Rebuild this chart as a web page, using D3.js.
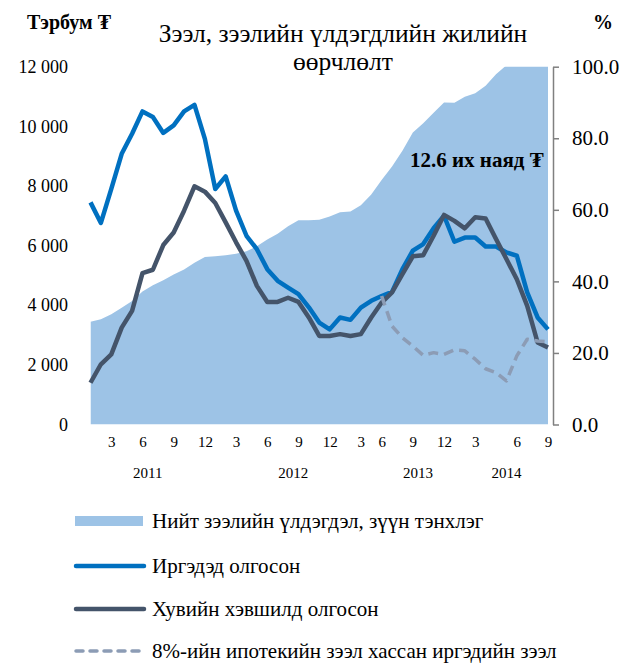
<!DOCTYPE html>
<html>
<head>
<meta charset="utf-8">
<script src="https://cdn.jsdelivr.net/npm/d3@7"></script>
<style>
  body { margin: 0; background: #fff; }
  text { font-family: "Liberation Serif", "Times New Roman", serif; fill: #000; }
</style>
</head>
<body>
<div id="chart"></div>
<script>
// monthly, Jan 2011 .. Sep 2014 (index 0..44)
var months = d3.range(45);

// total loan balance, right axis (%)
var totalBalance = [28.7, 29.4, 30.8, 32.6, 34.5, 37.2, 38.9, 40.3, 41.9, 43.3, 45.2, 46.8,
  47.0, 47.3, 47.7, 48.4, 49.8, 51.7, 53.3, 55.4, 57.1, 57.1, 57.2, 58.1,
  59.3, 59.5, 61.3, 64.3, 68.3, 72.1, 76.5, 81.6, 84.2, 87.1, 90.0, 89.9,
  91.6, 92.6, 94.7, 97.9, 100.4, 101.2, 102.0, 102.8, 103.5];

// loans to individuals, left axis (bn MNT)
var toIndividuals = [7450, 6760, 7900, 9080, 9750, 10500, 10310, 9780, 10030, 10500, 10720, 9580,
  7900, 8320, 7170, 6330, 5880, 5210, 4820, 4590, 4370, 3930, 3420, 3190,
  3590, 3510, 3920, 4150, 4310, 4450, 5210, 5830, 6050, 6580, 7000, 6130,
  6270, 6270, 5970, 5970, 5770, 5660, 4430, 3590, 3190];

// loans to private sector
var toPrivate = [1400, 2020, 2350, 3250, 3810, 5080, 5190, 6020, 6440, 7170, 7990, 7810,
  7430, 6780, 6110, 5490, 4650, 4110, 4110, 4250, 4110, 3590, 2970, 2970,
  3030, 2970, 3030, 3590, 4090, 4430, 5040, 5640, 5680, 6330, 7030, 6830,
  6580, 6950, 6910, 6220, 5550, 4870, 3980, 2750, 2580];

// individuals excluding 8% mortgage
var exMortgage = [null, null, null, null, null, null, null, null, null, null, null, null,
  null, null, null, null, null, null, null, null, null, null, null, null,
  null, null, null, null, 4310, 3300, 2910, 2630, 2320, 2410, 2350, 2500,
  2470, 2190, 1870, 1740, 1460, 2300, 2860, 2800, 2770];

var tickIdx = [2, 5, 8, 11, 14, 17, 20, 23, 26, 28, 31, 34, 37, 41, 44];
var tickText = ["3", "6", "9", "12", "3", "6", "9", "12", "3", "6", "9", "12", "3", "6", "9"];
var yearText = ["2011", "2012", "2013", "2014"];
var yearPos = [5.5, 19.5, 31.5, 40];

var leftTicks = [0, 2000, 4000, 6000, 8000, 10000, 12000];
var rightTicks = [0, 20, 40, 60, 80, 100];

var legendText = ["Нийт зээлийн үлдэгдэл, зүүн тэнхлэг", "Иргэдэд олгосон",
  "Хувийн хэвшилд олгосон", "8%-ийн ипотекийн зээл хассан иргэдийн зээл"];

var width = 622;
var height = 664;
var plotTop = 66.7, plotBottom = 424.5, plotLeft = 90.5, plotRight = 548;

var svg = d3.select("#chart").append("svg")
  .attr("width", width)
  .attr("height", height);

var x = d3.scaleLinear().domain([0, 44]).range([plotLeft, plotRight]);
var yL = d3.scaleLinear().domain([0, 12000]).range([plotBottom, plotTop]);
var yR = d3.scaleLinear().domain([0, 100]).range([plotBottom, plotTop]);

var fmt = d3.formatLocale({ decimal: ".", thousands: " ", grouping: [3], currency: ["", ""] }).format(",");

svg.append("clipPath").attr("id", "plotClip")
  .append("rect")
  .attr("x", plotLeft).attr("y", plotTop)
  .attr("width", plotRight - plotLeft).attr("height", plotBottom - plotTop);

// area, right axis
svg.append("path")
  .datum(months)
  .attr("clip-path", "url(#plotClip)")
  .attr("fill", "#9dc3e6")
  .attr("d", d3.area()
    .x(function (i) { return x(i); })
    .y0(plotBottom)
    .y1(function (i) { return yR(totalBalance[i]); }));

var lineFor = function (arr) {
  return d3.line()
    .defined(function (i) { return arr[i] != null; })
    .x(function (i) { return x(i); })
    .y(function (i) { return yL(arr[i]); });
};

svg.append("path").datum(months)
  .attr("fill", "none")
  .attr("stroke", "#0070c0")
  .attr("stroke-width", 4.5)
  .attr("stroke-linejoin", "round")
  .attr("d", lineFor(toIndividuals));

svg.append("path").datum(months)
  .attr("fill", "none")
  .attr("stroke", "#44546a")
  .attr("stroke-width", 4.5)
  .attr("stroke-linejoin", "round")
  .attr("d", lineFor(toPrivate));

svg.append("path").datum(months)
  .attr("fill", "none")
  .attr("stroke", "#8c9cb5")
  .attr("stroke-width", 3.5)
  .attr("stroke-dasharray", "10,6")
  .attr("stroke-linejoin", "round")
  .attr("d", lineFor(exMortgage));

// left axis
var leftAxis = svg.append("g")
  .attr("transform", "translate(72,0)")
  .call(d3.axisLeft(yL).tickValues(leftTicks).tickFormat(fmt).tickSize(0).tickPadding(4));
leftAxis.select(".domain").remove();
leftAxis.selectAll("text").style("font-size", "18px").style("font-family", "Liberation Serif");

// right axis
var rightAxis = svg.append("g")
  .attr("transform", "translate(553,0)")
  .call(d3.axisRight(yR).tickValues(rightTicks).tickFormat(d3.format(".1f")).tickSize(6).tickSizeOuter(0).tickPadding(13));
rightAxis.select(".domain").attr("stroke", "#808080").attr("stroke-width", 1.5);
rightAxis.selectAll("line").attr("stroke", "#808080").attr("stroke-width", 1.5);
rightAxis.selectAll("text").style("font-size", "21px").style("font-family", "Liberation Serif");

// month axis
var xAxis = svg.append("g")
  .attr("transform", "translate(0," + plotBottom + ")")
  .call(d3.axisBottom(x).tickValues(tickIdx)
    .tickFormat(function (d, i) { return tickText[i]; })
    .tickSize(0).tickPadding(12));
xAxis.select(".domain").remove();
xAxis.selectAll("text").style("font-size", "15px").style("font-family", "Liberation Serif");

svg.append("g").selectAll("text")
  .data(yearText)
  .enter().append("text")
  .attr("x", function (d, i) { return x(yearPos[i]); })
  .attr("y", 478)
  .attr("text-anchor", "middle")
  .style("font-size", "15px")
  .text(function (d) { return d; });

// titles
svg.append("text")
  .attr("x", 343).attr("y", 42)
  .attr("text-anchor", "middle")
  .style("font-size", "25.5px")
  .text("Зээл, зээлийн үлдэгдлийн жилийн");
svg.append("text")
  .attr("x", 343).attr("y", 69.5)
  .attr("text-anchor", "middle")
  .style("font-size", "25.5px")
  .text("өөрчлөлт");

svg.append("text")
  .attr("x", 27).attr("y", 29)
  .style("font-size", "20px").style("font-weight", "bold")
  .text("Тэрбум ₮");
svg.append("text")
  .attr("x", 593).attr("y", 29)
  .style("font-size", "20px").style("font-weight", "bold")
  .text("%");

svg.append("text")
  .attr("x", 410).attr("y", 167)
  .style("font-size", "21px").style("font-weight", "bold")
  .text("12.6 их наяд ₮");

// legend
var legendY = [521, 566, 609, 651];
var legend = svg.append("g").selectAll("g")
  .data(legendText)
  .enter().append("g")
  .attr("transform", function (d, i) { return "translate(0," + legendY[i] + ")"; });

legend.each(function (d, i) {
  var g = d3.select(this);
  if (i == 0) {
    g.append("rect").attr("x", 75).attr("y", -5).attr("width", 68).attr("height", 10).attr("fill", "#9dc3e6");
  } else {
    var ln = g.append("line").attr("x1", 76).attr("x2", 144).attr("y1", 0).attr("y2", 0)
      .attr("stroke-linecap", "round");
    if (i == 1) ln.attr("stroke", "#0070c0").attr("stroke-width", 4.5);
    if (i == 2) ln.attr("stroke", "#44546a").attr("stroke-width", 4.5);
    if (i == 3) ln.attr("stroke", "#8c9cb5").attr("stroke-width", 3.5).attr("stroke-dasharray", "7,7");
  }
  g.append("text")
    .attr("x", 152).attr("y", 0).attr("dy", "0.35em")
    .style("font-size", "21px")
    .text(d);
});
</script>
</body>
</html>
